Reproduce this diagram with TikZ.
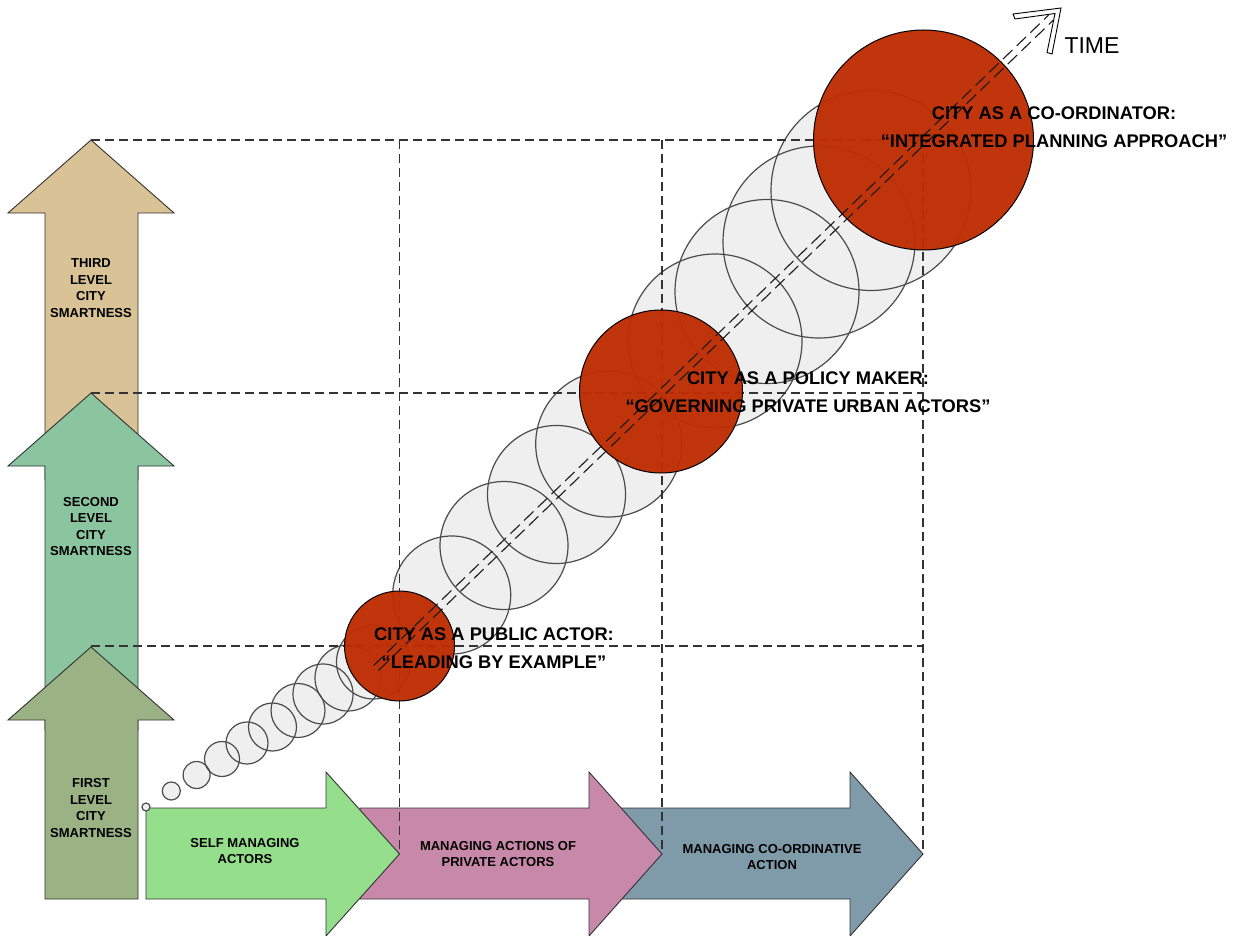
\documentclass[tikz,border=0pt]{standalone}
\usepackage{fontspec}
\setmainfont{Liberation Sans}
\definecolor{ctan}{HTML}{D9C295}
\definecolor{cgreentwo}{HTML}{8BC59F}
\definecolor{colive}{HTML}{9BB384}
\definecolor{cgreen}{HTML}{94DE8C}
\definecolor{cpink}{HTML}{C888AA}
\definecolor{cblue}{HTML}{7F9BAA}
\definecolor{cred}{HTML}{BF2D03}
\definecolor{circgray}{HTML}{EFEFEF}
\begin{document}
\begin{tikzpicture}[x=1pt,y=-1pt,
  arr/.style={draw=black!80, line width=0.9pt, line join=miter},
  gridline/.style={draw=black!80, dash pattern=on 9pt off 5pt, line width=1.2pt},
  gline/.style={draw=black!70, line width=1.2pt},
  redc/.style={fill=cred, fill opacity=0.96, draw=black, line width=1pt},
  smalllab/.style={font=\bfseries\fontsize{13}{16.5}\selectfont, align=center, inner sep=0pt},
  biglab/.style={font=\bfseries\fontsize{18.3}{27.5}\selectfont, align=center, inner sep=0pt},
  tline/.style={draw=black!90, dash pattern=on 13pt off 6pt, line width=1.1pt}]

\useasboundingbox (0,0) rectangle (1233,936);
\fill[white] (0,0) rectangle (1233,936);

% vertical arrows
\path[arr, fill=ctan] (45,480) -- (45,213) -- (8,213) -- (91,140) -- (174,213) -- (138,213) -- (138,480) -- cycle;
\path[arr, fill=cgreentwo] (45,730) -- (45,466) -- (8,466) -- (91,393) -- (174,466) -- (138,466) -- (138,730) -- cycle;
\path[arr, fill=colive] (45,899) -- (45,720) -- (8,720) -- (91,647) -- (174,720) -- (138,720) -- (138,899) -- cycle;

% horizontal arrows
\path[arr, fill=cblue] (600,808) -- (850,808) -- (850,772) -- (923,854) -- (850,936) -- (850,899) -- (600,899) -- cycle;
\path[arr, fill=cpink] (360,808) -- (589,808) -- (589,772) -- (662,854) -- (589,936) -- (589,899) -- (360,899) -- cycle;
\path[arr, fill=cgreen] (146,808) -- (326,808) -- (326,772) -- (399.5,854) -- (326,936) -- (326,899) -- (146,899) -- cycle;

% gray circles
\def\graylist{146/807/4, 171.3/791/9, 196.6/775/13.5, 222/759/17.5, 247/743/21,
  272.5/727/24, 298/710.5/27, 323/694/30, 348/678/33, 373.5/662/37,
  451.7/595/59, 504/545.5/64, 556.5/494.5/69, 608.7/444/73,
  715/341/87, 767/291.5/92, 819/242/96, 871/190.5/100}
\foreach \cx/\cy/\cr in \graylist { \fill[circgray] (\cx,\cy) circle[radius=\cr pt]; }
\foreach \cx/\cy/\cr in \graylist { \draw[gline] (\cx,\cy) circle[radius=\cr pt]; }

% dashed grid
\coordinate (g1) at (91,140);  \coordinate (g1e) at (923,140);
\coordinate (g2) at (91,393);  \coordinate (g2e) at (923,393);
\coordinate (g3) at (91,646);  \coordinate (g3e) at (923,646);
\coordinate (v1) at (399.5,140); \coordinate (v1e) at (399.5,854);
\coordinate (v2) at (662,140);   \coordinate (v2e) at (662,854);
\coordinate (v3) at (923,140);   \coordinate (v3e) at (923,854);
\draw[gridline] (g1) -- (g1e);
\draw[gridline] (g2) -- (g2e);
\draw[gridline] (g3) -- (g3e);
\draw[gridline] (v1) -- (v1e);
\draw[gridline] (v2) -- (v2e);
\draw[gridline] (v3) -- (v3e);

% red circles
\draw[redc] (399.5,646) circle[radius=55pt];
\draw[redc] (661,391.5) circle[radius=81.5pt];
\draw[redc] (923.5,140) circle[radius=110pt];

% TIME arrow
\coordinate (ts1) at (378.4,670.5);
\coordinate (ts2) at (373.6,665.5);
\coordinate (te1) at (1053.3,20.2);
\coordinate (te2) at (1048.5,15.2);
\draw[tline] (ts1) -- (te1);
\draw[tline] (ts2) -- (te2);
\draw[draw=black, line width=0.9pt, fill=white, line join=miter]
  (1013,14) -- (1061,8) -- (1052,54) -- (1047,52.5) -- (1055,13.5) -- (1015,19) -- cycle;
\node[font=\fontsize{23}{23}\selectfont, inner sep=0pt] (time) at (1092,45.5) {TIME};

% labels
\node[smalllab] (l3) at (91,288) {THIRD\\LEVEL\\CITY\\SMARTNESS};
\node[smalllab] (l2) at (91,526.5) {SECOND\\LEVEL\\CITY\\SMARTNESS};
\node[smalllab] (l1) at (91,808) {FIRST\\LEVEL\\CITY\\SMARTNESS};
\node[smalllab] (h1) at (245,851) {SELF MANAGING\\ACTORS};
\node[smalllab] (h2) at (498,854) {MANAGING ACTIONS OF\\PRIVATE ACTORS};
\node[smalllab] (h3) at (772,857) {MANAGING CO-ORDINATIVE\\ACTION};

\node[biglab] (c1) at (494,648) {CITY AS A PUBLIC ACTOR:\\“LEADING BY EXAMPLE”};
\node[biglab] (c2) at (808,392) {CITY AS A POLICY MAKER:\\“GOVERNING PRIVATE URBAN ACTORS”};
\node[biglab] (c3) at (1054,127) {CITY AS A CO-ORDINATOR:\\“INTEGRATED PLANNING APPROACH”};
\end{tikzpicture}
\end{document}
